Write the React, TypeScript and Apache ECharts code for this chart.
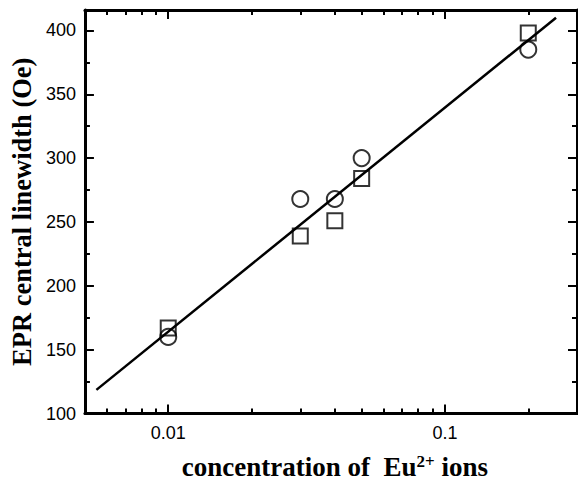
import React, { useEffect, useRef } from "react";
import * as echarts from "echarts";

const concentration = [0.01, 0.03, 0.04, 0.05, 0.2];
const circleWidths = [160, 268, 268, 300, 385];
const squareWidths = [167, 239, 251, 284, 398];
const fitX = [0.0055, 0.252];
const fitY = [118.5, 410];

const xMajorTicks = [0.01, 0.1];
const xMinorTicks = [0.006, 0.007, 0.008, 0.009, 0.02, 0.03, 0.04, 0.05, 0.06, 0.07, 0.08, 0.09, 0.2];
const yMajorTicks = [100, 150, 200, 250, 300, 350, 400];
const yMinorTicks = [125, 175, 225, 275, 325, 375];

const X_MIN = 0.005;
const X_MAX = 0.3;
const Y_MIN = 100;
const Y_MAX = 416;

export default function App() {
  const ref = useRef<HTMLDivElement>(null);
  useEffect(() => {
    if (!ref.current) return;
    const chart = echarts.init(ref.current, null, { renderer: "svg" });
    const black = "#000";
    const serif = "Liberation Serif, Times New Roman, serif";
    const tickFont = { color: black, fontSize: 18, fontFamily: "Liberation Sans, Arial, sans-serif" };
    const mkX = (pos: "top" | "bottom", major: boolean, primary: boolean) => ({
      type: "log",
      logBase: 10,
      min: X_MIN,
      max: X_MAX,
      position: pos,
      gridIndex: 0,
      axisLine: { show: major, onZero: false, lineStyle: { color: black, width: 3 } },
      axisTick: {
        show: true,
        inside: true,
        length: major ? 9 : 5,
        lineStyle: { color: black, width: 2 },
        customValues: major ? xMajorTicks : xMinorTicks,
      },
      axisLabel: {
        show: primary,
        margin: 10,
        ...tickFont,
        customValues: xMajorTicks,
        formatter: (v: number) => String(v),
      },
      splitLine: { show: false },
      minorTick: { show: false },
      ...(primary
        ? {
            name: "{a|concentration of  Eu}{s|2+}{a| ions}",
            nameLocation: "middle",
            nameGap: 39,
            nameTextStyle: {
              padding: [0, 0, 0, 8],
              rich: {
                a: { fontFamily: serif, fontWeight: "bold", fontSize: 27, color: black, lineHeight: 28 },
                s: { fontFamily: serif, fontWeight: "bold", fontSize: 17, color: black, verticalAlign: "top", lineHeight: 28, padding: [0, 0, 8, 0] },
              },
            },
          }
        : {}),
    });
    const mkY = (pos: "left" | "right", major: boolean, primary: boolean) => ({
      type: "value",
      min: Y_MIN,
      max: Y_MAX,
      position: pos,
      gridIndex: 0,
      axisLine: { show: major, onZero: false, lineStyle: { color: black, width: 3 } },
      axisTick: {
        show: true,
        inside: true,
        length: major ? 9 : 5,
        lineStyle: { color: black, width: 2 },
        customValues: major ? yMajorTicks : yMinorTicks,
      },
      axisLabel: {
        show: primary,
        margin: 9,
        ...tickFont,
        customValues: yMajorTicks,
      },
      splitLine: { show: false },
      ...(primary
        ? {
            name: "EPR central linewidth (Oe)",
            nameLocation: "middle",
            nameGap: 46,
            nameTextStyle: {
              fontFamily: serif,
              fontWeight: "bold",
              fontSize: 26.5,
              color: black,
            },
          }
        : {}),
    });

    chart.setOption({
      animation: false,
      backgroundColor: "#fff",
      grid: { left: 82, right: 1, top: 10, bottom: 63, containLabel: false },
      xAxis: [mkX("bottom", true, true), mkX("bottom", false, false), mkX("top", true, false), mkX("top", false, false)],
      yAxis: [mkY("left", true, true), mkY("left", false, false), mkY("right", true, false), mkY("right", false, false)],
      series: [
        {
          type: "line",
          data: fitX.map((x, i) => [x, fitY[i]]),
          showSymbol: false,
          symbol: "none",
          lineStyle: { color: black, width: 2.5 },
          z: 1,
        },
        {
          type: "scatter",
          data: concentration.map((x, i) => [x, circleWidths[i]]),
          symbol: "circle",
          symbolSize: 16,
          itemStyle: { color: "rgba(0,0,0,0)", borderColor: black, borderWidth: 2 },
          z: 2,
        },
        {
          type: "scatter",
          data: concentration.map((x, i) => [x, squareWidths[i]]),
          symbol: "rect",
          symbolSize: 15,
          itemStyle: { color: "rgba(0,0,0,0)", borderColor: black, borderWidth: 2 },
          z: 2,
        },
      ],
    });
    return () => chart.dispose();
  }, []);
  return <div ref={ref} style={{ width: 578, height: 485, position: "absolute", left: 0, top: 0 }} />;
}
